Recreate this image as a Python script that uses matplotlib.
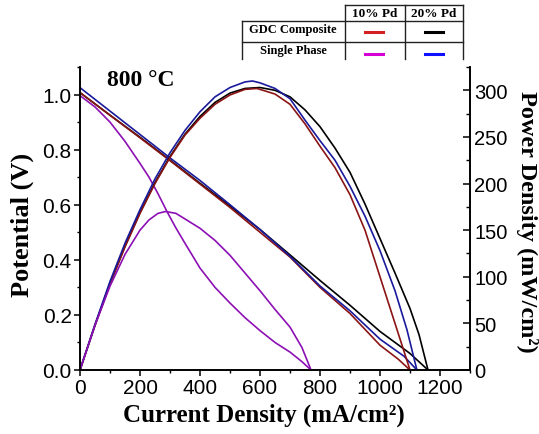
import matplotlib
matplotlib.use("Agg")
import matplotlib.pyplot as plt
from matplotlib.lines import Line2D
from matplotlib.ticker import MultipleLocator

# current density (mA/cm2) and potential (V) - I-V curves
i_gdc20 = [0, 100, 200, 300, 400, 500, 600, 700, 800, 900, 1000, 1100, 1160]
v_gdc20 = [1.007, 0.925, 0.845, 0.762, 0.678, 0.595, 0.51, 0.418, 0.325, 0.235, 0.14, 0.06, 0.0]

i_gdc10 = [0, 100, 200, 300, 400, 500, 600, 700, 800, 900, 1000, 1060, 1100]
v_gdc10 = [1.007, 0.925, 0.843, 0.76, 0.675, 0.59, 0.50, 0.41, 0.30, 0.205, 0.09, 0.04, 0.0]

i_sp20 = [0, 100, 200, 300, 400, 500, 600, 700, 800, 900, 1000, 1080, 1123]
v_sp20 = [1.025, 0.94, 0.855, 0.77, 0.688, 0.60, 0.51, 0.413, 0.305, 0.215, 0.112, 0.05, 0.0]

i_sp10 = [0, 50, 100, 150, 200, 230, 260, 290, 320, 350, 400, 450, 500, 550, 600, 650, 700, 740, 770]
v_sp10 = [0.996, 0.955, 0.90, 0.83, 0.75, 0.70, 0.64, 0.575, 0.515, 0.46, 0.37, 0.30, 0.243, 0.19,
          0.143, 0.10, 0.065, 0.03, 0.0]

# power density (mW/cm2)
pi_gdc20 = [0, 50, 100, 150, 200, 250, 300, 350, 400, 450, 500, 550, 600, 650, 700, 750, 800,
            850, 900, 950, 1000, 1050, 1100, 1130, 1160]
p_gdc20 = [0, 48, 93, 133, 169, 201, 229, 253, 272, 287, 297, 302, 303, 300, 293, 279, 261,
           238, 212, 178, 141, 104, 66, 38, 0]

pi_gdc10 = [0, 50, 100, 150, 200, 250, 300, 350, 400, 450, 500, 550, 590, 650, 700, 750, 800,
            850, 900, 950, 1000, 1040, 1070, 1100]
p_gdc10 = [0, 48, 92, 132, 168, 200, 228, 252, 270, 285, 295, 301, 302, 296, 285, 264, 240,
           217, 188, 150, 100, 60, 30, 0]

pi_sp20 = [0, 50, 100, 150, 200, 250, 300, 350, 400, 450, 500, 550, 575, 600, 650, 700, 750,
           800, 850, 900, 950, 1000, 1050, 1090, 1123]
p_sp20 = [0, 49, 95, 136, 172, 205, 233, 257, 277, 293, 303, 309, 310, 308, 302, 291, 268,
          246, 225, 197, 165, 128, 85, 43, 0]

pi_sp10 = [0, 50, 100, 150, 200, 230, 260, 285, 320, 350, 400, 450, 500, 550, 600, 650, 700, 740, 770]
p_sp10 = [0, 48, 90, 124, 150, 161, 168, 170, 168, 162, 152, 139, 123, 104, 85, 65, 46, 24, 0]

c_gdc10 = '#8b1414'
c_gdc20 = '#000000'
c_sp10 = '#8c10b4'
c_sp20 = '#1a1a9c'

W, H = 539, 435
fig = plt.figure(figsize=(W / 100, H / 100), dpi=100)
ax = fig.add_axes([80 / W, 1 - 371 / H, (470 - 80) / W, (371 - 68) / H])
ax2 = ax.twinx()

lw = 1.2
ax.plot(i_gdc20, v_gdc20, color=c_gdc20, lw=lw)
ax.plot(i_gdc10, v_gdc10, color=c_gdc10, lw=lw)
ax.plot(i_sp20, v_sp20, color=c_sp20, lw=lw)
ax.plot(i_sp10, v_sp10, color=c_sp10, lw=lw)
ax2.plot(pi_gdc20, p_gdc20, color=c_gdc20, lw=lw)
ax2.plot(pi_gdc10, p_gdc10, color=c_gdc10, lw=lw)
ax2.plot(pi_sp20, p_sp20, color=c_sp20, lw=lw)
ax2.plot(pi_sp10, p_sp10, color=c_sp10, lw=lw)

ax.set_xlim(0, 1300)
ax.set_ylim(0, 1.1)
ax2.set_ylim(0, 325)

ax.xaxis.set_major_locator(MultipleLocator(200))
ax.xaxis.set_minor_locator(MultipleLocator(100))
ax.yaxis.set_major_locator(MultipleLocator(0.2))
ax.yaxis.set_minor_locator(MultipleLocator(0.1))
ax2.yaxis.set_major_locator(MultipleLocator(50))
ax2.yaxis.set_minor_locator(MultipleLocator(25))
ax.yaxis.set_major_formatter(plt.FuncFormatter(lambda v, p: f'{v:.1f}'))

for a in (ax, ax2):
    a.spines['top'].set_visible(False)
    for s in a.spines.values():
        s.set_linewidth(1.2)
ax.tick_params(axis='both', which='major', direction='out', length=4, width=1.1, pad=2, labelsize=15)
ax.tick_params(axis='both', which='minor', direction='out', length=2.5, width=1.0)
ax2.tick_params(axis='y', which='major', direction='in', length=5, width=1.1, pad=3, labelsize=14.5)
ax2.tick_params(axis='y', which='minor', direction='in', length=3, width=1.0)
for lab in ax.get_xticklabels() + ax.get_yticklabels() + ax2.get_yticklabels():
    lab.set_fontfamily('Liberation Sans')

serif_b = dict(family='Liberation Serif', weight='bold')
fig.text((80 + 470) / 2 / W - 0.02, 1 - 415 / H, 'Current Density (mA/cm²)', ha='center', va='center', fontsize=18, **serif_b)
fig.text(22 / W, 1 - 225 / H, 'Potential (V)', ha='center', va='center', rotation=90, fontsize=19, **serif_b)
fig.text(527 / W, 1 - 222 / H, 'Power Density (mW/cm²)', ha='center', va='center', rotation=270, fontsize=17.5, **serif_b)
fig.text(107 / W, 1 - 80 / H, '800 °C', ha='left', va='center', fontsize=17, **serif_b)

# legend table at the top
def fx(px):
    return px / W

def fy(py):
    return 1 - py / H

seg = [((345, 6), (463, 6)), ((242, 22), (463, 22)), ((242, 43), (463, 43)),
       ((242, 22), (242, 60)), ((345, 6), (345, 60)), ((405, 6), (405, 60)), ((463, 6), (463, 60))]
for (x0, y0), (x1, y1) in seg:
    fig.add_artist(Line2D([fx(x0), fx(x1)], [fy(y0), fy(y1)], color='#222222', lw=1.0))

fig.text(fx(375), fy(14), '10% Pd', ha='center', va='center', fontsize=9.5, **serif_b)
fig.text(fx(434), fy(14), '20% Pd', ha='center', va='center', fontsize=9.5, **serif_b)
fig.text(fx(293), fy(30), 'GDC Composite', ha='center', va='center', fontsize=9, **serif_b)
fig.text(fx(293), fy(51), 'Single Phase', ha='center', va='center', fontsize=9, **serif_b)

legend_marks = [(374, 33, '#d42020'), (434, 33, '#000000'), (374, 55, '#d400d4'), (434, 55, '#1010ff')]
for x, y, c in legend_marks:
    fig.add_artist(Line2D([fx(x - 9), fx(x + 9)], [fy(y), fy(y)], color=c, lw=2.2))

fig.savefig('out.png', dpi=100)
